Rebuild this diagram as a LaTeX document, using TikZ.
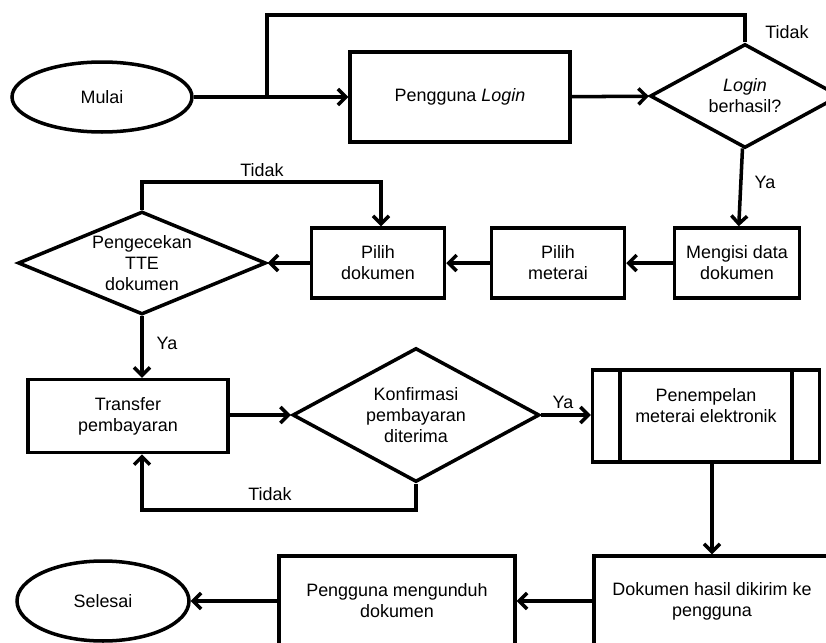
\documentclass[tikz,border=0pt]{standalone}
\usepackage{fontspec}
\setmainfont{Liberation Sans}
\usetikzlibrary{arrows,arrows.meta,shapes,calc,positioning}

\begin{document}
\begin{tikzpicture}[x=0.02cm,y=-0.02cm,
	every node/.style={font=\fontsize{10.2}{12}\selectfont,align=center},
	proses/.style={draw,line width=2pt,rectangle,minimum width=#1,minimum height=14mm,inner sep=0pt},
	terminal/.style={draw,line width=2pt,ellipse,inner sep=0pt},
	keputusan/.style={draw,line width=2pt,diamond,inner sep=0pt,aspect=2},
	panah/.style={-{Straight Barb[length=4.5pt,width=9pt]},line width=2pt}]
		\useasboundingbox (0,0) rectangle (826,643);
		
		\node[terminal,minimum width=36mm,minimum height=14mm] (mulai) at (102,97) {Mulai};
		\node[proses=44mm,minimum height=18mm] (login) at (460,97) {Pengguna \textit{Login}};
		\node[keputusan,minimum width=38mm,minimum height=20.8mm] (cek) at (745,96) {\textit{Login}\\berhasil?};
		
		\node[proses=25mm] (isi) at (737,263) {Mengisi data\\dokumen};
		\node[proses=26.6mm] (meterai) at (558,263) {Pilih\\meterai};
		\node[proses=26.6mm] (dok) at (378,263) {Pilih\\dokumen};
		\node[keputusan,minimum width=49.6mm,minimum height=20.6mm,aspect=2.4] (tte) at (142,263) {Pengecekan\\TTE\\dokumen};
		
		\node[proses=40mm,minimum height=14.6mm] (transfer) at (128,416) {Transfer\\pembayaran};
		\node[keputusan,minimum width=49.4mm,minimum height=26.8mm,aspect=1.85] (konf) at (416,415) {Konfirmasi\\pembayaran\\diterima};
		\node[proses=45.4mm,minimum height=18.4mm] (tempel) at (706,416) {Penempelan\\meterai elektronik\\\mbox{}};
		\draw[line width=2pt] ([xshift=5.8mm]tempel.north west) -- ([xshift=5.8mm]tempel.south west);
		\draw[line width=2pt] ([xshift=-5.8mm]tempel.north east) -- ([xshift=-5.8mm]tempel.south east);
		
		\node[proses=47.2mm,minimum height=18mm] (kirim) at (712,601) {Dokumen hasil dikirim ke\\pengguna};
		\node[proses=47.2mm,minimum height=18mm] (unduh) at (397,601) {Pengguna mengunduh\\dokumen};
		\node[terminal,minimum width=34.4mm,minimum height=16mm] (selesai) at (103,601) {Selesai};
		
		\coordinate (j1) at (267,97);
		\coordinate (t1) at (267,15);
		\coordinate (t2) at (142,510);
		
		\draw[panah] (mulai) -- (login);
		\draw[panah] (login) -- (cek);
		\draw[line width=2pt] (cek.north) |- (t1) -- (j1);
		\node (tidak1) at (787,32) {Tidak};
		\draw[panah] (cek) -- (isi);
		\node (ya1) at (765,182) {Ya};
		
		\draw[panah] (isi) -- (meterai);
		\draw[panah] (meterai) -- (dok);
		\draw[panah] (dok) -- (tte);
		\draw[panah] (tte.north) |- ($(dok.north)+(3,-44)$) -- ($(dok.north)+(3,0)$);
		\node (tidak2) at (262,170) {Tidak};
		\draw[panah] (tte.south) -- (tte.south |- transfer.north);
		\node (ya2) at (167,343) {Ya};
		
		\draw[panah] (transfer.east |- konf.west) -- (konf.west);
		\draw[panah] (konf.south) |- (t2) -- (t2 |- transfer.south);
		\node (tidak3) at (270,494) {Tidak};
		\draw[panah] (konf.east) -- (konf.east -| tempel.west);
		\node (ya3) at (563,402) {Ya};
		
		\draw[panah] (kirim.north |- tempel.south) -- (kirim.north);
		\draw[panah] (kirim) -- (unduh);
		\draw[panah] (unduh) -- (selesai);
\end{tikzpicture}
\end{document}
